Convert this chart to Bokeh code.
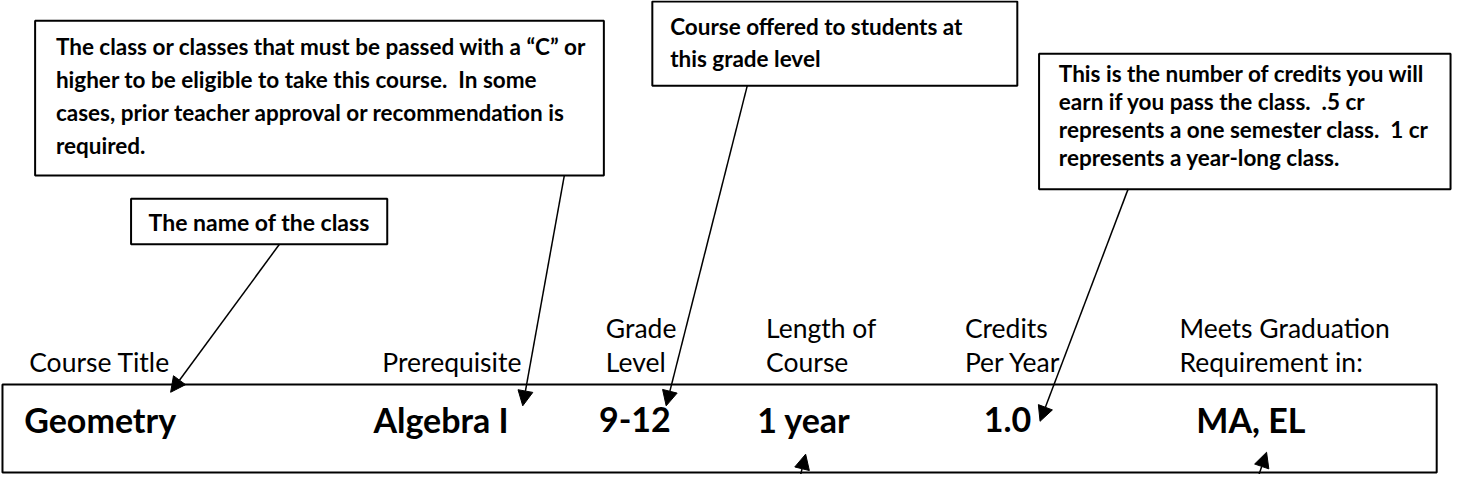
from bokeh.plotting import figure
from bokeh.models import Range1d, Arrow, NormalHead, ColumnDataSource
from bokeh.core.properties import value
from bokeh.embed import file_html
from bokeh.resources import INLINE

NB2 = "\u00a0 "  # double space kept in SVG

# ---------------- data (texts) ----------------
prereq_note = ["The class or classes that must be passed with a \u201cC\u201d or",
               "higher to be eligible to take this course." + NB2 + "In some",
               "cases, prior teacher approval or recommendation is",
               "required."]
grade_note = ["Course offered to students at", "this grade level"]
credit_note = ["This is the number of credits you will",
               "earn if you pass the class." + NB2 + ".5 cr",
               "represents a one semester class." + NB2 + "1 cr",
               "represents a year-long class."]
name_note = ["The name of the class"]

header_top = ["", "", "Grade", "Length of", "Credits", "Meets Graduation"]
header_bottom = ["Course Title", "Prerequisite", "Level", "Course", "Per Year", "Requirement in:"]
row_values = ["Geometry", "Algebra I", "9-12", "1 year", "1.0", "MA, EL"]

# ---------------- layout ----------------
W, H = 1470, 490
col_header_x = [29, 386, 612, 774, 975, 1192]
col_value_x = [24, 377, 605, 765, 994, 1209]
header_top_y, header_bottom_y, value_y = 339, 374, 433

box_left = [35, 659, 1050, 132, 2]
box_right = [610, 1028, 1466, 391, 1452]
box_top = [21, 1, 55, 205, 397]
box_bottom = [181, 88, 195, 252, 488]

arrow_x0 = [282, 570, 755, 1140, 808, 1271]
arrow_y0 = [252, 181, 88, 195, 494, 494]
arrow_x1 = [172, 528, 673, 1051, 814, 1280]
arrow_y1 = [405, 419, 419, 435, 469, 467]

FONT = value("Lato")

p = figure(width=1454, height=474, x_range=Range1d(0, W), y_range=Range1d(H, 0),
           output_backend="svg", toolbar_location=None, min_border=0,
           x_axis_type=None, y_axis_type=None)
p.grid.visible = False
p.outline_line_color = None
p.background_fill_color = "white"
p.border_fill_color = "white"

# boxes
p.quad(left=box_left, right=box_right, top=box_top, bottom=box_bottom,
       fill_color="white", line_color="black", line_width=2)

def lines(texts, x, y0, dy, size, align="left", style="bold"):
    ys = [y0 + i * dy for i in range(len(texts))]
    p.text(x=[x] * len(texts), y=ys, text=texts, text_font=FONT,
           text_font_style=style, text_font_size=size, text_color="black",
           text_align=align, text_baseline="middle")

lines(prereq_note, 56, 48, 34, "22.5px")
lines(grade_note, 677, 27, 33, "22.5px")
lines(credit_note, 1070, 75, 29, "22.5px")
lines(name_note, (box_left[3] + box_right[3]) / 2, (box_top[3] + box_bottom[3]) / 2, 0, "23px", align="center")

# headers
p.text(x=col_header_x, y=[header_top_y] * 6, text=header_top, text_font=FONT,
       text_font_style="normal", text_font_size="26.5px", text_color="black",
       text_align="left", text_baseline="middle")
p.text(x=col_header_x, y=[header_bottom_y] * 6, text=header_bottom, text_font=FONT,
       text_font_style="normal", text_font_size="26.5px", text_color="black",
       text_align="left", text_baseline="middle")

# values
p.text(x=col_value_x, y=[value_y] * 6, text=row_values, text_font=FONT,
       text_font_style="bold", text_font_size="34px", text_color="black",
       text_align="left", text_baseline="middle")

# arrows
src = ColumnDataSource(dict(x0=arrow_x0, y0=arrow_y0, x1=arrow_x1, y1=arrow_y1))
p.add_layout(Arrow(end=NormalHead(size=15, fill_color="black", line_color="black", line_width=1),
                   source=src, x_start="x0", y_start="y0", x_end="x1", y_end="y1",
                   line_color="black", line_width=1.5))

open("out.html", "w").write(file_html(p, INLINE))
